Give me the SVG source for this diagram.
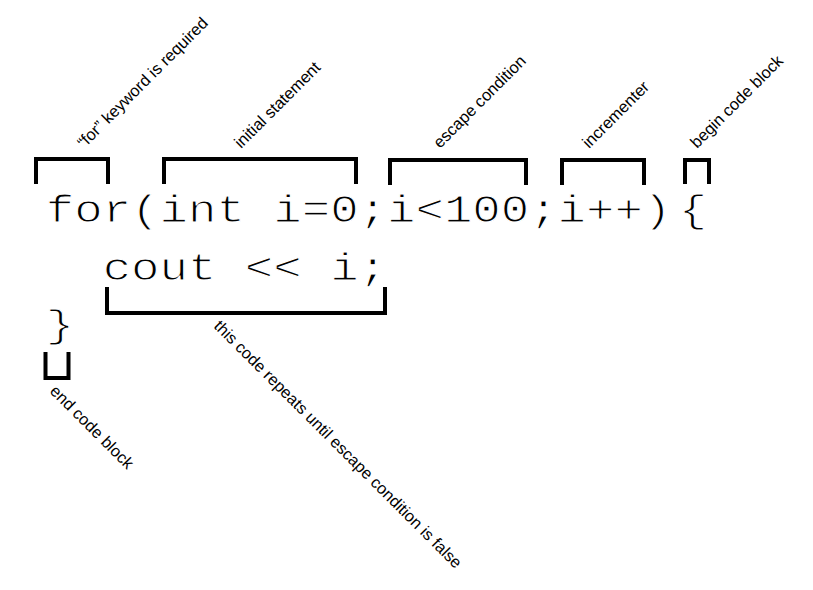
<svg xmlns="http://www.w3.org/2000/svg" width="813" height="590" viewBox="0 0 813 590">
<style>
.code{font-family:"Liberation Mono","Courier New",monospace;font-size:47.4px;fill:#000;stroke:#fff;stroke-width:1.3px}
.lbl{font-family:"Liberation Sans",Arial,sans-serif;font-size:16.4px;fill:#000}
.br{fill:none;stroke:#000;stroke-width:4;stroke-linejoin:miter;stroke-linecap:butt}
</style>
<rect width="813" height="590" fill="#fff"/>
<g id="code">
<text class="code" transform="translate(45.8,222) scale(1,0.82)">for(int i=0;i&lt;100;i++)<tspan dx="7.5">{</tspan></text>
<text class="code" transform="translate(45.8,280) scale(1,0.82)" xml:space="preserve">  cout &lt;&lt; i;</text>
<text class="code" transform="translate(45.8,337) scale(1,0.82)">}</text>
</g>
<g id="connectors">
<path class="br" d="M36,184 V159 H108 V184"/>
<path class="br" d="M164,184 V159 H356 V184"/>
<path class="br" d="M390,185 V160 H526 V185"/>
<path class="br" d="M562,185 V160 H644 V185"/>
<path class="br" d="M685,184 V160 H709 V184"/>
<path class="br" d="M107,287 V313 H385 V287"/>
<path class="br" d="M45.5,352 V378 H68.5 V352"/>
</g>
<g id="label-for">
<text class="lbl" transform="translate(84,149) rotate(-45)">“for” keyword is required</text>
</g>
<g id="label-init">
<text class="lbl" transform="translate(241,149) rotate(-45)">initial statement</text>
</g>
<g id="label-escape">
<text class="lbl" transform="translate(440,149) rotate(-45)">escape condition</text>
</g>
<g id="label-incr">
<text class="lbl" transform="translate(589,149) rotate(-45)">incrementer</text>
</g>
<g id="label-begin">
<text class="lbl" transform="translate(697,149) rotate(-45)">begin code block</text>
</g>
<g id="label-repeat">
<text class="lbl" transform="translate(213,327) rotate(45)">this code repeats until escape condition is false</text>
</g>
<g id="label-end">
<text class="lbl" transform="translate(49,392) rotate(45)">end code block</text>
</g>
</svg>
